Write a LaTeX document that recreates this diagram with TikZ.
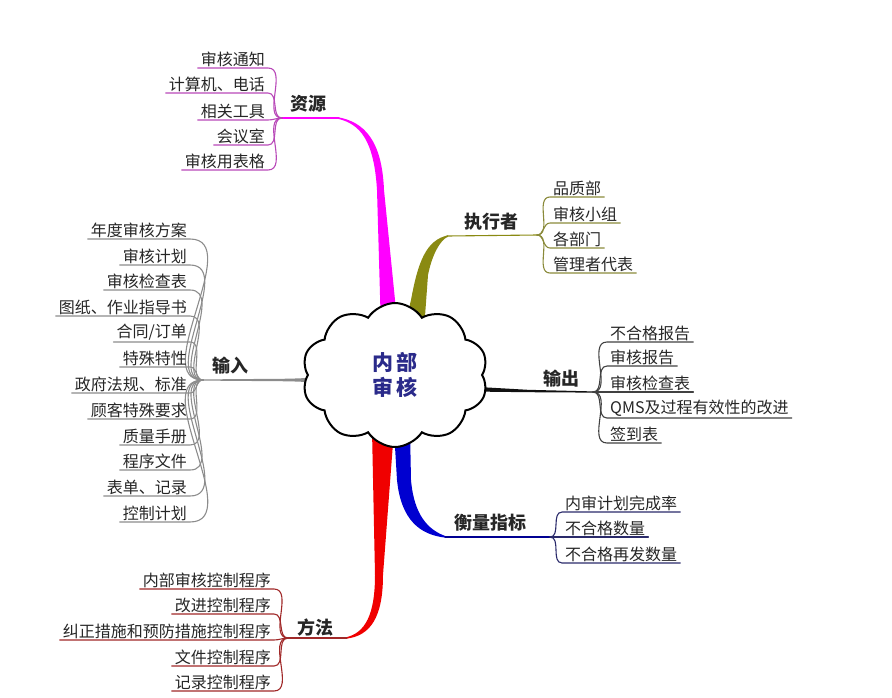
\documentclass[tikz,border=0pt]{standalone}
\usepackage{fontspec}
\newfontfamily\cjk{Noto Sans CJK SC}
\usepackage{tikz}
\usetikzlibrary{shapes.symbols}
\definecolor{resC}{HTML}{FF00FF}
\definecolor{resL}{HTML}{B848B8}
\definecolor{exeC}{HTML}{8A8A12}
\definecolor{exeL}{HTML}{8A8A3A}
\definecolor{inC}{HTML}{8C8C8C}
\definecolor{outC}{HTML}{111111}
\definecolor{mesC}{HTML}{0000D0}
\definecolor{mesL}{HTML}{2A2A6A}
\definecolor{metC}{HTML}{F00000}
\definecolor{metL}{HTML}{A02828}
\definecolor{coreC}{HTML}{2A2A8A}
\tikzset{leaf/.style={font=\cjk\fontsize{16}{18}\selectfont,text=black!85,inner xsep=3pt,inner ysep=1pt},
  branch/.style={font=\cjk\bfseries\fontsize{18}{20}\selectfont,text=black!85,inner sep=1pt},
  twig/.style={line width=1.1pt}}

\begin{document}
\begin{tikzpicture}[x=1pt, y=-1pt, line cap=round]
\useasboundingbox (0,0) rectangle (892,697);

% hubs where the leaves meet
\coordinate (resHub) at (282,118);
\coordinate (resEnd) at (339,118);
\coordinate (exeHub) at (537,235);
\coordinate (exeEnd) at (447,236);
\coordinate (inHub) at (203,380);
\coordinate (outHub) at (593,392);
\coordinate (mesHub) at (550,537);
\coordinate (mesEnd) at (445,537);
\coordinate (metHub) at (288,638);
\coordinate (metEnd) at (347,638);

% tapered main branches
\fill[resC] (381,330) -- (377,190) .. controls (374,140) and (360,124) .. (338,118.8)
  -- (338,117.2) .. controls (364,122) and (382,140) .. (384,190) -- (398,330) -- cycle;
\fill[exeC] (404,330) -- (411,300) .. controls (418,262) and (426,240) .. (448,235.3)
  -- (448,236.7) .. controls (440,240) and (432,255) .. (428,275) -- (424,330) -- cycle;
\fill[mesC] (394,430) -- (397,480) .. controls (401,520) and (420,535) .. (446,537.7)
  -- (446,536.3) .. controls (428,530) and (414,515) .. (411,480) -- (410,430) -- cycle;
\fill[metC] (372,430) -- (375,575) .. controls (375,615) and (365,633) .. (346,637.3)
  -- (346,638.7) .. controls (370,636) and (383,618) .. (383,575) -- (394,430) -- cycle;
\fill[inC] (320,377.5) -- (290,378.7) -- (203,379.4) -- (203,380.6) -- (290,381.3) -- (320,382.5) -- cycle;
\fill[outC] (470,386.5) -- (528,389.8) -- (593,391.4) -- (593,392.6) -- (528,392.2) -- (470,391.5) -- cycle;

\draw[resC,twig] (resHub) -- (resEnd);
\draw[exeC,twig] (exeEnd) -- (exeHub);
\draw[mesC!70!black,twig] (mesEnd) -- (mesHub);
\draw[metL,twig] (metHub) -- (metEnd);

\node[cloud, draw, fill=white, line width=2pt, cloud puffs=10, cloud puff arc=115, aspect=1.3,
  minimum width=186pt, minimum height=144pt, align=center, text=coreC,
  font=\cjk\bfseries\fontsize{21}{25}\selectfont] (core) at (395,375) {内\hspace{3pt}部\\审\hspace{3pt}核};

% branch titles
\node[branch] (res) at (308,104) {资源};
\node[branch] (exe) at (491,222) {执行者};
\node[branch] (in) at (230,366) {输入};
\node[branch] (out) at (561,379) {输出};
\node[branch] (mes) at (490,523) {衡量指标};
\node[branch] (met) at (315,628) {方法};

% leaves
\foreach \ty/\txt [count=\i] in {68/审核通知,93/计算机、电话,120/相关工具,145/会议室,170/审核用表格}{
  \node[leaf,anchor=south east] (res\i) at (268,\ty) {\txt};
  \draw[resL,twig] (res\i.south west) -- (res\i.south east) to[out=0,in=180] (resHub);
}
\foreach \ty/\txt [count=\i] in {197/品质部,223/审核小组,248/各部门,273/管理者代表}{
  \node[leaf,anchor=south west] (exe\i) at (550,\ty) {\txt};
  \draw[exeL,twig] (exeHub) to[out=0,in=180] (exe\i.south west) -- (exe\i.south east);
}
\foreach \ty/\txt [count=\i] in {239/年度审核方案,265/审核计划,290/审核检查表,316/图纸、作业指导书,
  342/{合同/订单},367/特殊特性,393/政府法规、标准,419/顾客特殊要求,445/质量手册,470/程序文件,
  496/表单、记录,522/控制计划}{
  \node[leaf,anchor=south east] (in\i) at (190,\ty) {\txt};
  \draw[inC,twig] (in\i.south west) -- (in\i.south east) to[out=0,in=180] (inHub);
}
\foreach \ty/\txt [count=\i] in {342/不合格报告,366/审核报告,392/审核检查表,418/QMS及过程有效性的改进,443/签到表}{
  \node[leaf,anchor=south west] (out\i) at (607,\ty) {\txt};
  \draw[outC!80,twig] (outHub) to[out=0,in=180] (out\i.south west) -- (out\i.south east);
}
\foreach \ty/\txt [count=\i] in {512/内审计划完成率,537/不合格数量,563/不合格再发数量}{
  \node[leaf,anchor=south west] (mes\i) at (562,\ty) {\txt};
  \draw[mesL,twig] (mesHub) to[out=0,in=180] (mes\i.south west) -- (mes\i.south east);
}
\foreach \ty/\txt [count=\i] in {589/内部审核控制程序,614/改进控制程序,640/纠正措施和预防措施控制程序,666/文件控制程序,691/记录控制程序}{
  \node[leaf,anchor=south east] (met\i) at (274,\ty) {\txt};
  \draw[metL,twig] (met\i.south west) -- (met\i.south east) to[out=0,in=180] (metHub);
}
\end{tikzpicture}
\end{document}
